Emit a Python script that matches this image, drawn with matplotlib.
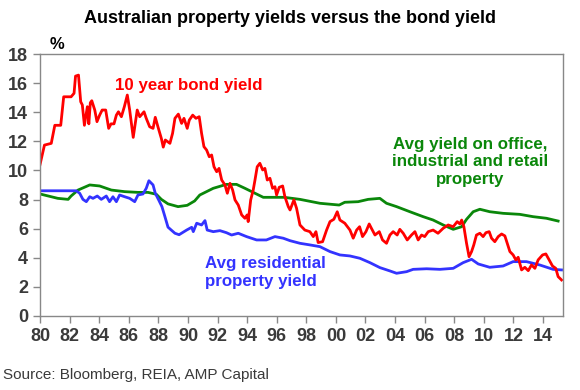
import matplotlib
matplotlib.use("Agg")
import matplotlib.pyplot as plt

bond_years = [1980.0, 1980.3, 1980.76, 1981.0, 1981.4, 1981.6, 1982.1, 1982.3, 1982.4, 1982.6,
              1982.75, 1982.86, 1983.0, 1983.2, 1983.3, 1983.4, 1983.5, 1983.7, 1983.85, 1984.03,
              1984.2, 1984.44, 1984.64, 1984.8, 1985.0, 1985.16, 1985.3, 1985.5, 1985.7, 1985.9,
              1986.06, 1986.3, 1986.57, 1986.74, 1987.03, 1987.18, 1987.41, 1987.64, 1987.79, 1987.97,
              1988.2, 1988.33, 1988.47, 1988.78, 1988.96, 1989.12, 1989.35, 1989.57, 1989.73, 1989.95,
              1990.09, 1990.32, 1990.54, 1990.76, 1990.92, 1991.08, 1991.26, 1991.44, 1991.6, 1991.76,
              1991.94, 1992.1, 1992.28, 1992.5, 1992.66, 1992.84, 1993.02, 1993.18, 1993.4, 1993.63,
              1993.85, 1994.0, 1994.07, 1994.24, 1994.41, 1994.53, 1994.68, 1994.86, 1995.05, 1995.2,
              1995.36, 1995.54, 1995.72, 1995.88, 1995.99, 1996.17, 1996.4, 1996.55, 1996.78, 1996.9,
              1997.16, 1997.34, 1997.57, 1997.9, 1998.24, 1998.47, 1998.65, 1998.8, 1999.1, 1999.37,
              1999.6, 1999.86, 2000.09, 2000.27, 2000.6, 2000.95, 2001.17, 2001.4, 2001.6, 2001.8,
              2002.03, 2002.25, 2002.4, 2002.64, 2002.93, 2003.15, 2003.42, 2003.65, 2003.87, 2004.14,
              2004.32, 2004.55, 2004.82, 2005.11, 2005.34, 2005.56, 2005.79, 2006.0, 2006.24, 2006.57,
              2006.9, 2007.25, 2007.59, 2007.93, 2008.2, 2008.38, 2008.5, 2008.65, 2008.83, 2009.0,
              2009.17, 2009.32, 2009.5, 2009.73, 2009.95, 2010.14, 2010.36, 2010.52, 2010.74, 2010.97,
              2011.2, 2011.42, 2011.58, 2011.76, 2011.98, 2012.16, 2012.32, 2012.55, 2012.77, 2013.0,
              2013.22, 2013.45, 2013.67, 2013.97, 2014.19, 2014.41, 2014.64, 2014.86, 2015.02, 2015.25]
bond_yield = [10.4, 11.74, 11.86, 13.1, 13.1, 15.06, 15.06, 15.3, 16.48, 16.55,
              14.72, 14.5, 13.1, 14.38, 13.2, 14.65, 14.79, 14.15, 13.35, 13.8,
              14.15, 14.15, 12.89, 13.2, 13.2, 13.8, 14.03, 13.69, 14.38, 15.18,
              14.15, 12.27, 14.15, 13.69, 14.03, 13.58, 13.0, 12.89, 13.65, 13.0,
              12.2, 11.6, 12.09, 11.86, 12.55, 13.58, 13.87, 13.23, 13.58, 12.89,
              13.46, 13.8, 13.58, 13.69, 12.55, 11.63, 11.4, 10.94, 11.06, 10.25,
              9.91, 10.14, 9.34, 9.0, 8.43, 9.11, 8.65, 7.97, 7.62, 6.94,
              6.71, 6.94, 6.48, 7.97, 8.65, 9.34, 10.25, 10.49, 10.03, 10.14,
              9.34, 9.46, 8.77, 8.88, 8.31, 8.84, 8.93, 8.2, 7.51, 7.28,
              7.97, 7.4, 6.25, 5.9, 5.79, 5.45, 5.79, 5.04, 5.1, 5.9,
              6.48, 6.64, 7.16, 6.59, 6.37, 5.9, 5.34, 5.9, 6.13, 5.45,
              5.79, 6.32, 6.02, 5.56, 5.79, 5.22, 4.99, 5.56, 5.79, 5.56,
              5.95, 5.68, 5.22, 5.56, 5.79, 5.22, 5.56, 5.45, 5.79, 5.9,
              5.68, 6.02, 6.25, 6.13, 6.48, 6.32, 6.59, 6.13, 4.99, 4.07,
              4.42, 4.88, 5.56, 5.68, 5.45, 5.72, 5.79, 5.34, 5.1, 5.45,
              5.63, 5.5, 4.99, 4.42, 4.19, 3.85, 4.03, 3.16, 3.34, 3.11,
              3.5, 3.27, 3.85, 4.19, 4.26, 3.85, 3.43, 3.27, 2.7, 2.47]

resi_years = [1980.0, 1982.45, 1982.68, 1982.9, 1983.13, 1983.36, 1983.58, 1983.87, 1984.14, 1984.48,
              1984.7, 1984.93, 1985.16, 1985.38, 1985.72, 1986.06, 1986.4, 1986.62, 1986.96, 1987.18,
              1987.36, 1987.64, 1987.79, 1988.02, 1988.24, 1988.42, 1988.65, 1988.87, 1989.12, 1989.4,
              1989.91, 1990.25, 1990.36, 1990.59, 1990.92, 1991.15, 1991.3, 1991.71, 1992.16, 1992.6,
              1992.95, 1993.4, 1993.96, 1994.64, 1995.3, 1995.88, 1996.44, 1996.9, 1997.57, 1998.24,
              1998.92, 1999.6, 2000.27, 2000.95, 2001.62, 2002.3, 2002.97, 2003.65, 2004.1, 2004.78,
              2005.22, 2006.13, 2007.03, 2007.93, 2008.6, 2009.17, 2009.62, 2010.4, 2011.3, 2011.98,
              2012.88, 2013.78, 2014.68, 2015.25]
resi_yield = [8.6, 8.6, 8.43, 8.01, 7.85, 8.19, 8.08, 8.24, 8.01, 8.24,
              7.85, 8.19, 7.85, 8.31, 8.19, 8.08, 7.85, 8.31, 8.38, 8.77,
              9.29, 9.0, 8.43, 7.97, 7.51, 6.9, 6.1, 5.9, 5.68, 5.58,
              5.9, 6.09, 5.79, 6.37, 6.25, 6.55, 5.9, 5.79, 5.86, 5.72,
              5.56, 5.68, 5.45, 5.22, 5.22, 5.45, 5.34, 5.17, 4.99, 4.88,
              4.76, 4.42, 4.19, 4.12, 3.96, 3.66, 3.32, 3.09, 2.93, 3.04,
              3.2, 3.24, 3.2, 3.27, 3.66, 3.89, 3.57, 3.34, 3.43, 3.73,
              3.73, 3.5, 3.2, 3.16]

comm_years = [1980.0, 1981.2, 1981.9, 1982.1, 1982.57, 1983.36, 1984.03, 1984.82, 1985.72, 1986.62,
              1987.3, 1987.86, 1988.2, 1988.65, 1989.33, 1989.95, 1990.45, 1990.8, 1991.71, 1992.6,
              1993.28, 1993.85, 1994.53, 1995.09, 1995.76, 1996.5, 1997.57, 1998.92, 2000.22, 2000.6,
              2001.5, 2002.18, 2002.97, 2003.42, 2004.1, 2005.0, 2005.9, 2006.57, 2007.25, 2007.93,
              2008.5, 2008.83, 2009.28, 2009.73, 2010.4, 2011.3, 2012.43, 2013.33, 2014.23, 2015.02]
comm_yield = [8.38, 8.08, 8.01, 8.24, 8.65, 9.0, 8.93, 8.65, 8.54, 8.49,
              8.49, 8.36, 8.01, 7.7, 7.51, 7.6, 7.9, 8.31, 8.77, 9.04,
              9.04, 8.77, 8.43, 8.15, 8.15, 8.15, 8.01, 7.74, 7.62, 7.81,
              7.85, 8.01, 8.08, 7.74, 7.51, 7.16, 6.82, 6.59, 6.25, 5.95,
              6.13, 6.64, 7.16, 7.33, 7.16, 7.05, 6.98, 6.82, 6.71, 6.52]

x_ticks = list(range(1980, 2015, 2))
x_tick_labels = ["%02d" % (y % 100) for y in x_ticks]
y_ticks = list(range(0, 19, 2))

plt.rcParams['font.family'] = ['Liberation Sans', 'DejaVu Sans']

RED = "#ff0000"
GREEN = "#0a870a"
BLUE = "#3333ff"
GREY = "#888888"
TXT = "#3a3a3a"

fig = plt.figure(figsize=(5.8, 3.9), dpi=100)
ax = fig.add_axes([0.069, 0.19, 0.9017, 0.6715])

ax.plot(comm_years, comm_yield, color=GREEN, lw=2.0, solid_joinstyle='round')
ax.plot(resi_years, resi_yield, color=BLUE, lw=2.0, solid_joinstyle='round')
ax.plot(bond_years, bond_yield, color=RED, lw=2.0, solid_joinstyle='round')

ax.set_xlim(1980, 2015.35)
ax.set_ylim(0, 18)
ax.set_xticks(x_ticks)
ax.set_xticklabels(x_tick_labels)
ax.set_yticks(y_ticks)
for s in ax.spines.values():
    s.set_color(GREY)
    s.set_linewidth(1.0)
ax.tick_params(axis='both', colors=GREY, length=5, width=1.0, direction='out')
ax.tick_params(axis='x', pad=4)
for lab in ax.get_xticklabels() + ax.get_yticklabels():
    lab.set_color(TXT)
    lab.set_fontsize(13)
    lab.set_fontweight('bold')

ax.text(1985.05, 15.87, "10 year bond yield", color=RED, fontsize=12.2,
        fontweight='bold', ha='left', va='center')
ax.text(2009.05, 10.58, "Avg yield on office,\nindustrial and retail\nproperty", color=GREEN,
        fontsize=12.2, fontweight='bold', ha='center', va='center', linespacing=1.2)
ax.text(1991.15, 2.98, "Avg residential\nproperty yield", color=BLUE, fontsize=12.2,
        fontweight='bold', ha='left', va='center', linespacing=1.2)

fig.text(0.5, 0.952, "Australian property yields versus the bond yield", ha='center', va='center',
         fontsize=13, fontweight='bold', color='black')
fig.text(0.099, 0.885, "%", ha='center', va='center', fontsize=12, fontweight='bold', color='black')
fig.text(0.005, 0.038, "Source: Bloomberg, REIA, AMP Capital", ha='left', va='center',
         fontsize=11, color=TXT)

fig.savefig("out.png", dpi=100)
